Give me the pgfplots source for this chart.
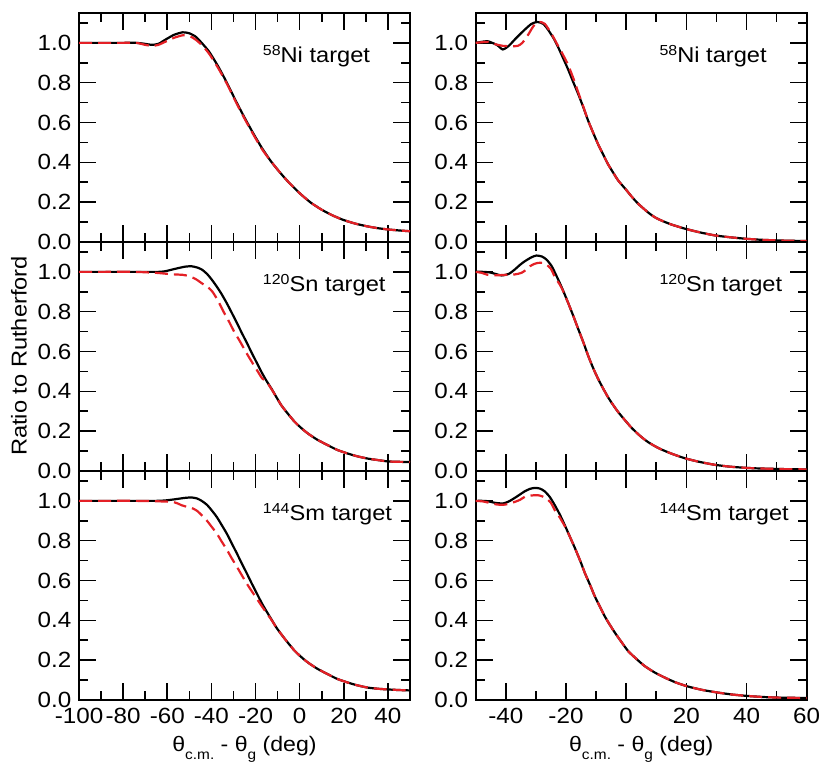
\documentclass[border=0pt]{standalone}
\usepackage{fontspec}
\setmainfont{Liberation Sans}[FakeStretch=1.1]
\usepackage{pgfplots}
\usepackage{pgfplotstable}
\pgfplotsset{compat=1.18}
\definecolor{cred}{RGB}{228,32,38}

% ---------------- data ----------------
\pgfplotstableread{
x y
-100 1.0
-90 1.0
-80 1.0
-74 1.0
-70 0.995
-67 0.99
-64 0.995
-61 1.015
-57 1.04
-53 1.053
-50 1.048
-47 1.03
-44 0.995
-41 0.955
-37 0.883
-33 0.80
-29 0.71
-25 0.625
-21 0.545
-17 0.47
-13 0.405
-9 0.35
-5 0.30
0 0.245
5 0.198
10 0.162
15 0.133
20 0.11
25 0.093
30 0.08
35 0.07
40 0.063
45 0.058
50 0.054
}\TLb
\pgfplotstableread{
x y
-100 1.0
-90 1.0
-80 1.0
-74 1.0
-70 0.99
-67 0.985
-64 0.99
-61 1.005
-57 1.025
-53 1.038
-50 1.035
-47 1.015
-44 0.985
-41 0.945
-37 0.875
-33 0.795
-29 0.705
-25 0.62
-21 0.54
-17 0.465
-13 0.405
-9 0.35
-5 0.30
0 0.245
5 0.198
10 0.162
15 0.133
20 0.11
25 0.093
30 0.08
35 0.07
40 0.063
45 0.058
50 0.054
}\TLr
\pgfplotstableread{
x y
-50 1.0
-48 1.005
-46 1.008
-43 0.99
-41 0.967
-39 0.985
-37 1.017
-34 1.062
-31.5 1.095
-29.5 1.105
-27.5 1.095
-26 1.067
-24 1.02
-22.5 0.975
-21 0.925
-19.3 0.867
-17.5 0.80
-15.9 0.742
-14.2 0.675
-12.6 0.608
-11 0.55
-9.3 0.49
-7.5 0.435
-6 0.39
-4.3 0.348
-2.6 0.308
0 0.262
2 0.225
4 0.192
6 0.165
8 0.14
10 0.12
12 0.106
15 0.088
19.5 0.067
24 0.05
29.5 0.033
35 0.023
40 0.016
45 0.011
50 0.008
55 0.006
60 0.005
}\TRb
\pgfplotstableread{
x y
-50 1.0
-48 1.003
-46 1.005
-44 0.995
-41 0.985
-38 0.983
-36 0.985
-34.5 1.0
-32.6 1.04
-31 1.08
-30 1.098
-28.7 1.105
-27 1.095
-24.8 1.045
-23 0.995
-21.5 0.955
-20.3 0.92
-19.3 0.89
-17.5 0.82
-15.9 0.75
-14.2 0.678
-12.6 0.608
-11 0.55
-9.3 0.49
-7.5 0.435
-6 0.39
-4.3 0.348
-2.6 0.308
0 0.262
2 0.225
4 0.192
6 0.165
8 0.14
10 0.12
12 0.106
15 0.088
19.5 0.067
24 0.05
29.5 0.033
35 0.023
40 0.016
45 0.011
50 0.008
55 0.006
60 0.005
}\TRr
\pgfplotstableread{
x y
-100 1.0
-90 1.0
-80 1.0
-70 1.0
-64 1.0
-61 1.003
-56.5 1.015
-52 1.026
-49 1.028
-46.5 1.022
-44.4 1.012
-42 0.99
-39.9 0.962
-37.5 0.925
-35.3 0.887
-33 0.842
-30.8 0.795
-28.5 0.745
-26.3 0.695
-24 0.645
-21.8 0.595
-19.5 0.545
-17.2 0.495
-15 0.452
-12.7 0.412
-10.5 0.37
-8.2 0.328
-5 0.283
-2.1 0.245
1 0.213
3.9 0.187
8 0.157
13 0.128
17 0.106
22 0.087
26 0.074
31 0.062
36 0.054
40 0.048
45 0.046
50 0.045
}\MLb
\pgfplotstableread{
x y
-100 1.0
-90 1.0
-75 1.0
-65 0.995
-58 0.988
-53 0.985
-50 0.978
-47 0.963
-44 0.94
-41.5 0.922
-39.5 0.90
-37 0.855
-34.5 0.80
-32 0.75
-29.7 0.70
-27 0.65
-24.5 0.60
-21.8 0.55
-19 0.50
-17 0.465
-15 0.448
-12.7 0.41
-10.5 0.37
-8.2 0.328
-5 0.283
-2.1 0.245
1 0.213
3.9 0.187
8 0.157
13 0.128
17 0.106
22 0.087
26 0.074
31 0.062
36 0.054
40 0.048
45 0.046
50 0.045
}\MLr
\pgfplotstableread{
x y
-50 1.0
-47.5 1.0
-45.3 0.997
-43.5 0.99
-41.4 0.982
-39 0.99
-37 1.012
-35.3 1.035
-33.7 1.053
-31.5 1.073
-29.8 1.082
-28 1.077
-26.5 1.062
-24.8 1.03
-23.1 0.978
-21.2 0.915
-19.3 0.845
-17.6 0.78
-15.9 0.712
-14.2 0.645
-12.6 0.578
-11 0.518
-9.3 0.462
-7.6 0.413
-6 0.37
-4.3 0.331
-2.6 0.295
0 0.248
1.8 0.217
4.5 0.178
7.3 0.145
11 0.113
15.1 0.087
19.5 0.064
24 0.047
29.5 0.031
35 0.021
42 0.014
48.4 0.011
54 0.009
60 0.008
}\MRb
\pgfplotstableread{
x y
-50 1.0
-48 0.995
-46 0.985
-43 0.983
-40 0.985
-37 0.987
-34.8 0.995
-33.3 1.01
-32 1.028
-30.5 1.04
-29.2 1.045
-27.8 1.045
-26.5 1.037
-25 1.015
-23.7 0.975
-22 0.935
-21.2 0.912
-19.3 0.845
-17.6 0.78
-15.9 0.712
-14.2 0.645
-12.6 0.578
-11 0.518
-9.3 0.462
-7.6 0.413
-6 0.37
-4.3 0.331
-2.6 0.295
0 0.248
1.8 0.217
4.5 0.178
7.3 0.145
11 0.113
15.1 0.087
19.5 0.064
24 0.047
29.5 0.031
35 0.021
42 0.014
48.4 0.011
54 0.009
60 0.008
}\MRr
\pgfplotstableread{
x y
-100 1.0
-90 1.0
-80 1.0
-70 1.0
-65 1.0
-61 1.002
-56.5 1.008
-52 1.015
-49 1.017
-46.5 1.012
-44.4 1.0
-42 0.98
-39.9 0.953
-37.5 0.918
-35.3 0.878
-33 0.835
-30.8 0.787
-28.5 0.737
-26.3 0.687
-24 0.637
-21.8 0.587
-19.5 0.537
-17.2 0.487
-15 0.445
-12.7 0.403
-10.5 0.363
-8.2 0.328
-5 0.283
-2.1 0.245
1 0.213
3.9 0.187
8 0.157
13 0.128
17 0.106
22 0.087
26 0.074
31 0.062
36 0.056
40 0.053
45 0.05
50 0.048
}\BLb
\pgfplotstableread{
x y
-100 1.0
-90 1.0
-75 1.0
-65 0.998
-58 0.995
-55.5 0.988
-53.5 0.978
-51 0.97
-49 0.965
-46.5 0.95
-44.4 0.928
-42 0.9
-39.9 0.87
-37.5 0.835
-35.3 0.795
-33 0.755
-30.8 0.712
-28.5 0.67
-26.3 0.628
-24 0.585
-21.8 0.548
-19.5 0.51
-17.2 0.472
-15 0.437
-12.7 0.401
-10.5 0.363
-8.2 0.328
-5 0.283
-2.1 0.245
1 0.213
3.9 0.187
8 0.157
13 0.128
17 0.106
22 0.087
26 0.074
31 0.062
36 0.056
40 0.053
45 0.05
50 0.048
}\BLr
\pgfplotstableread{
x y
-50 1.0
-47.5 1.0
-45.9 0.998
-43.5 0.99
-40.9 0.987
-39 0.997
-37 1.015
-35.3 1.032
-33.7 1.048
-32 1.06
-30.4 1.065
-28.7 1.062
-27.1 1.048
-25.4 1.02
-23.7 0.978
-22 0.93
-20.4 0.878
-18.7 0.82
-17 0.762
-15.3 0.70
-13.7 0.637
-12 0.578
-10.4 0.52
-8.7 0.468
-7.1 0.42
-5.4 0.377
-3.7 0.337
-1.5 0.29
0.7 0.245
3.5 0.205
6.2 0.17
9.5 0.138
12.9 0.112
16.5 0.088
20.7 0.067
25.5 0.05
30.6 0.037
35.5 0.027
40.6 0.02
45.5 0.015
50.6 0.012
55 0.011
60 0.01
}\BRb
\pgfplotstableread{
x y
-50 1.0
-47.5 0.997
-45.5 0.99
-43 0.982
-41 0.98
-39 0.985
-37 0.995
-35.3 1.005
-33.7 1.02
-31.5 1.027
-29.2 1.028
-27.8 1.022
-26.5 1.012
-25 0.99
-23.7 0.953
-22 0.915
-20.4 0.873
-18.7 0.82
-17 0.762
-15.3 0.70
-13.7 0.637
-12 0.578
-10.4 0.52
-8.7 0.468
-7.1 0.42
-5.4 0.377
-3.7 0.337
-1.5 0.29
0.7 0.245
3.5 0.205
6.2 0.17
9.5 0.138
12.9 0.112
16.5 0.088
20.7 0.067
25.5 0.05
30.6 0.037
35.5 0.027
40.6 0.02
45.5 0.015
50.6 0.012
55 0.011
60 0.01
}\BRr

\pgfplotsset{
  panel/.style={
    scale only axis, width=331pt, height=229pt,
    anchor=south west,
    ymin=0, ymax=1.15,
    ytick={0,0.2,0.4,0.6,0.8,1.0},
    yticklabels={0.0,0.2,0.4,0.6,0.8,1.0},
    minor ytick={0.1,0.3,0.5,0.7,0.9,1.1},
    tick align=inside,
    major tick length=17pt, minor tick length=9pt,
    axis line style={line width=1.8pt},
    tick style={black, line width=1.6pt},
    tick label style={font=\fontsize{22}{22}\selectfont},
    yticklabel style={inner sep=0pt, xshift=-7.5pt},
    xticklabel style={inner sep=0pt, yshift=-8pt},
  },
  leftx/.style={xmin=-100,xmax=50, xtick={-100,-80,-60,-40,-20,0,20,40},
    minor xtick={-90,-70,-50,-30,-10,10,30}},
  rightx/.style={xmin=-50,xmax=60, xtick={-40,-20,0,20,40,60},
    minor xtick={-50,-30,-10,10,30,50}},
  nolab/.style={xticklabels={}},
  bk/.style={black, line width=2.2pt, no marks, smooth, tension=0.4},
  rd/.style={cred, line width=2.2pt, dash pattern=on 13pt off 6pt, no marks, smooth, tension=0.4},
}
\newcommand{\plab}[2]{\raisebox{7pt}{\fontsize{14.5}{14.5}\selectfont #1}#2 target}
\newcommand{\xlab}{\fontsize{21}{21}\selectfont
  θ\raisebox{-7.5pt}{\fontsize{14}{14}\selectfont c.m.}\ - θ\raisebox{-7.5pt}{\fontsize{14}{14}\selectfont g} (deg)}

\begin{document}
\begin{tikzpicture}
\path[use as bounding box] (0pt,0pt) rectangle (823pt,765pt);

% top-left
\begin{axis}[panel, leftx, nolab, at={(79pt,523pt)}]
\addplot[bk] table[x=x,y=y] {\TLb};
\addplot[rd] table[x=x,y=y] {\TLr};
\node[anchor=base west, font=\fontsize{21.5}{21.5}\selectfont] at (rel axis cs:0.545,0.782) {\plab{58}{Ni}};
\end{axis}
% top-right
\begin{axis}[panel, rightx, nolab, at={(475.7pt,523pt)}]
\addplot[bk] table[x=x,y=y] {\TRb};
\addplot[rd] table[x=x,y=y] {\TRr};
\node[anchor=base west, font=\fontsize{21.5}{21.5}\selectfont] at (rel axis cs:0.545,0.782) {\plab{58}{Ni}};
\end{axis}
% middle-left
\begin{axis}[panel, leftx, nolab, at={(79pt,294pt)}]
\addplot[bk] table[x=x,y=y] {\MLb};
\addplot[rd] table[x=x,y=y] {\MLr};
\node[anchor=base west, font=\fontsize{21.5}{21.5}\selectfont] at (rel axis cs:0.545,0.782) {\plab{120}{Sn}};
\end{axis}
% middle-right
\begin{axis}[panel, rightx, nolab, at={(475.7pt,294pt)}]
\addplot[bk] table[x=x,y=y] {\MRb};
\addplot[rd] table[x=x,y=y] {\MRr};
\node[anchor=base west, font=\fontsize{21.5}{21.5}\selectfont] at (rel axis cs:0.545,0.782) {\plab{120}{Sn}};
\end{axis}
% bottom-left
\begin{axis}[panel, leftx, at={(79pt,65pt)},
  xticklabels={-100,-80,-60,-40,-20,0,20,40}]
\addplot[bk] table[x=x,y=y] {\BLb};
\addplot[rd] table[x=x,y=y] {\BLr};
\node[anchor=base west, font=\fontsize{21.5}{21.5}\selectfont] at (rel axis cs:0.545,0.782) {\plab{144}{Sm}};
\end{axis}
% bottom-right
\begin{axis}[panel, rightx, at={(475.7pt,65pt)},
  xticklabels={-40,-20,0,20,40,60}]
\addplot[bk] table[x=x,y=y] {\BRb};
\addplot[rd] table[x=x,y=y] {\BRr};
\node[anchor=base west, font=\fontsize{21.5}{21.5}\selectfont] at (rel axis cs:0.545,0.782) {\plab{144}{Sm}};
\end{axis}

\node[rotate=90, font=\fontsize{21.5}{21.5}\selectfont] at (19pt,409pt) {Ratio to Rutherford};
\node[anchor=base] at (244.5pt,13pt) {\xlab};
\node[anchor=base] at (641.2pt,13pt) {\xlab};
\end{tikzpicture}
\end{document}
